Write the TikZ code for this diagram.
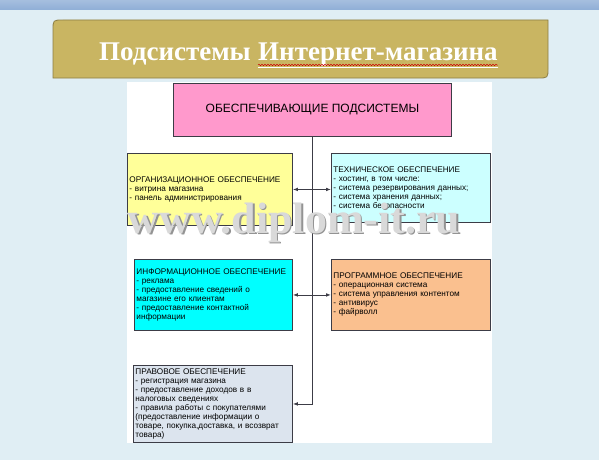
\documentclass[tikz,border=0pt]{standalone}
\usepackage{fontspec}
\setmainfont{Liberation Sans}
\newfontfamily\titlefont{Liberation Serif}
\usetikzlibrary{arrows.meta,positioning,decorations.pathmorphing}
\definecolor{pagebg}{HTML}{E0EEF4}
\definecolor{barblue}{HTML}{8FAED6}
\definecolor{titlegold}{HTML}{C9B562}
\definecolor{titleedge}{HTML}{8C7E45}
\definecolor{boxline}{HTML}{3C3C46}
\definecolor{orgfill}{HTML}{FFFF99}
\definecolor{techfill}{HTML}{CCFFFF}
\definecolor{infofill}{HTML}{00FFFF}
\definecolor{softfill}{HTML}{FAC08F}
\definecolor{legalfill}{HTML}{DCE4EE}
\definecolor{topfill}{HTML}{FF99CC}
\begin{document}
\begin{tikzpicture}[x=1pt,y=-1pt,
  subbox/.style={draw=boxline,line width=0.9pt,inner xsep=2pt,inner ysep=0pt,
    align=left,anchor=north west,font=\fontsize{8.2}{9}\selectfont},
  titletext/.style={inner sep=0pt,text=white,font=\titlefont\bfseries\fontsize{27}{30}\selectfont},
  conn/.style={draw=boxline,line width=0.9pt},
  marktext/.style={inner sep=0pt,anchor=base,font=\titlefont\bfseries\fontsize{44}{44}\selectfont}]
\useasboundingbox (0,0) rectangle (599,460);
\fill[pagebg] (0,0) rectangle (599,460);
\shade[top color=barblue!80,bottom color=barblue] (0,0) rectangle (599,10);
% title banner
\draw[fill=titlegold,draw=titleedge,line width=0.8pt]
     (53,78)
  -- (53,30) .. controls (53,20) .. (63,20)
  -- (548,20)
  -- (548,68) .. controls (548,78) .. (538,78)
  -- cycle;
\node[titletext,anchor=base east] (titleL) at (251,60) {Подсистемы};
\node[titletext,base right=7pt of titleL] (titleR) {\underline{Интернет-магазина}};
\draw[red!80!black,line width=0.5pt,decorate,decoration={snake,amplitude=0.7pt,segment length=3pt}]
  ([yshift=-5pt]titleR.base west) -- ([yshift=-5pt]titleR.base east);
% white sheet
\fill[white] (127,82) rectangle (492,443);
\node[draw=boxline,line width=0.9pt,fill=topfill,minimum width=278pt,minimum height=53pt,
  anchor=north west,font=\fontsize{12}{14}\selectfont] (top) at (173,83) {ОБЕСПЕЧИВАЮЩИЕ ПОДСИСТЕМЫ};
\node[subbox,fill=orgfill,text width=161pt,minimum height=72pt] (org) at (127,153)
  {ОРГАНИЗАЦИОННОЕ ОБЕСПЕЧЕНИЕ\\- витрина магазина\\- панель администрирования};
\node[subbox,fill=techfill,text width=155pt,minimum height=69pt] (tech) at (331,153)
  {ТЕХНИЧЕСКОЕ ОБЕСПЕЧЕНИЕ\\- хостинг, в том числе:\\- система резервирования данных;\\- система хранения данных;\\- система безопасности};
\node[subbox,fill=infofill,text width=154pt,minimum height=71pt] (info) at (134,259)
  {ИНФОРМАЦИОННОЕ ОБЕСПЕЧЕНИЕ\\- реклама\\- предоставление сведений о\\магазине его клиентам\\- предоставление контактной\\информации};
\node[subbox,fill=softfill,text width=155pt,minimum height=71pt] (soft) at (331,259)
  {ПРОГРАММНОЕ ОБЕСПЕЧЕНИЕ\\- операционная система\\- система управления контентом\\- антивирус\\- файрволл};
\node[subbox,fill=legalfill,text width=155pt,minimum height=77pt] (legal) at (133,365)
  {ПРАВОВОЕ ОБЕСПЕЧЕНИЕ\\- регистрация магазина\\- предоставление доходов в в\\налоговых сведениях\\- правила работы с покупателями\\(предоставление информации о\\товаре, покупка,доставка, и всозврат\\товара)};
% connectors
\draw[conn,-{Latex[length=5pt]}] (top.south) |- (legal.east);
\draw[conn,{Latex[length=5pt]}-{Latex[length=5pt]}] (org.east) -- (org.east -| tech.west);
\draw[conn,{Latex[length=5pt]}-{Latex[length=5pt]}] (info.east) -- (soft.west);
% watermark
\node[marktext,text=gray!85] (siteshadow) at (295.5,234.5) {www.diplom-it.ru};
\node[marktext,text=gray!30] (site) at (294,233) {www.diplom-it.ru};
\end{tikzpicture}
\end{document}
